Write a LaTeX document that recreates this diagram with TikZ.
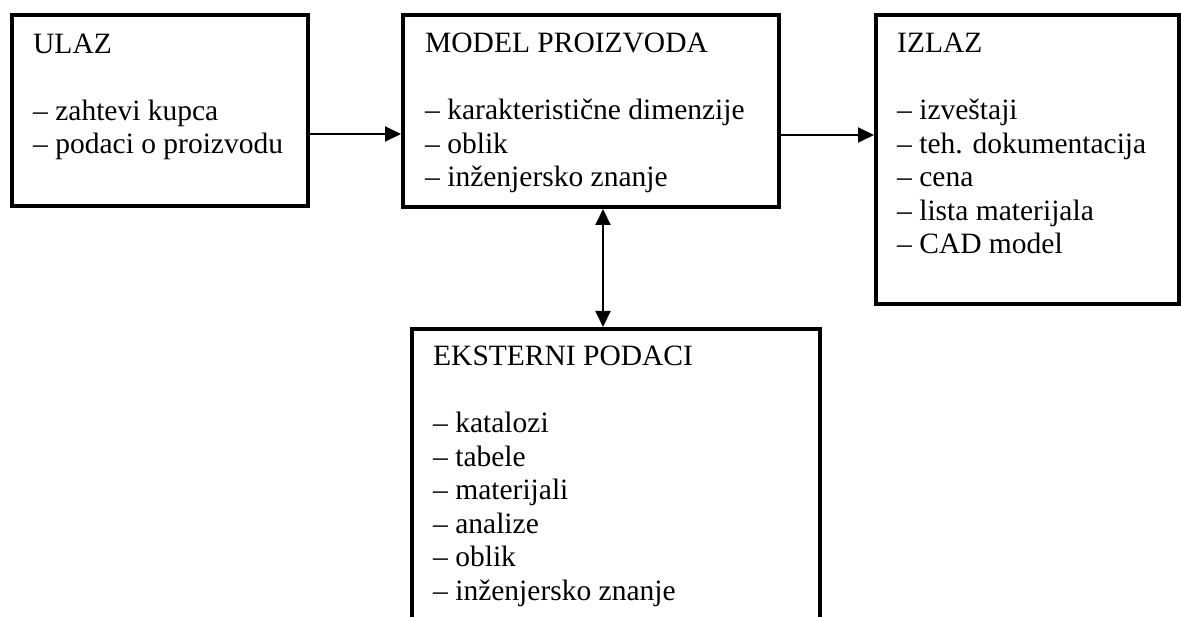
\documentclass[tikz,border=0pt]{standalone}
\usepackage{fontspec}
\setmainfont{Liberation Serif}
\usetikzlibrary{arrows.meta}

\begin{document}
\begin{tikzpicture}[
    x=1pt, y=-1pt,
    box/.style={draw, line width=4pt, rectangle, inner sep=0pt},
    label/.style={anchor=base west, align=left, inner sep=0pt,
                  font=\fontsize{29.5}{33.5}\selectfont},
    conn/.style={line width=2pt, -{Triangle[length=16pt,width=15pt]}},
    biconn/.style={line width=2pt, {Triangle[length=16pt,width=15pt]}-{Triangle[length=16pt,width=15pt]}}
  ]
  \useasboundingbox (0,0) rectangle (1181,617);
  \clip (0,0) rectangle (1181,617);

  % the four blocks
  \node[box, minimum width=296pt, minimum height=191pt] (ulaz)  at (160,110.5) {};
  \node[box, minimum width=376pt, minimum height=192pt] (model) at (591,111) {};
  \node[box, minimum width=303pt, minimum height=289pt] (izlaz) at (1027.5,159.5) {};
  \node[box, minimum width=408pt, minimum height=331pt] (ext)   at (616,494.5) {};

  % block contents (each placed by the baseline of its last line)
  \node[label] (tulaz) at (33,154) {ULAZ\\[33.5pt]
    – zahtevi kupca\\
    – podaci o proizvodu};
  \node[label] (tmodel) at (425,187) {MODEL PROIZVODA\\[33.5pt]
    – karakteristične dimenzije\\
    – oblik\\
    – inženjersko znanje};
  \node[label] (tizlaz) at (897,254) {IZLAZ\\[33.5pt]
    – izveštaji\\
    – teh. dokumentacija\\
    – cena\\
    – lista materijala\\
    – CAD model};
  \node[label] (text) at (433,600) {EKSTERNI PODACI\\[33.5pt]
    – katalozi\\
    – tabele\\
    – materijali\\
    – analize\\
    – oblik\\
    – inženjersko znanje};

  % connectors
  \coordinate (r1) at (0,134);
  \coordinate (r2) at (0,135);
  \coordinate (c1) at (603,0);
  \draw[conn] (ulaz.east |- r1) -- (model.west |- r1);
  \draw[conn] (model.east |- r2) -- (izlaz.west |- r2);
  \draw[biconn] (model.south -| c1) -- (ext.north -| c1);
\end{tikzpicture}
\end{document}
